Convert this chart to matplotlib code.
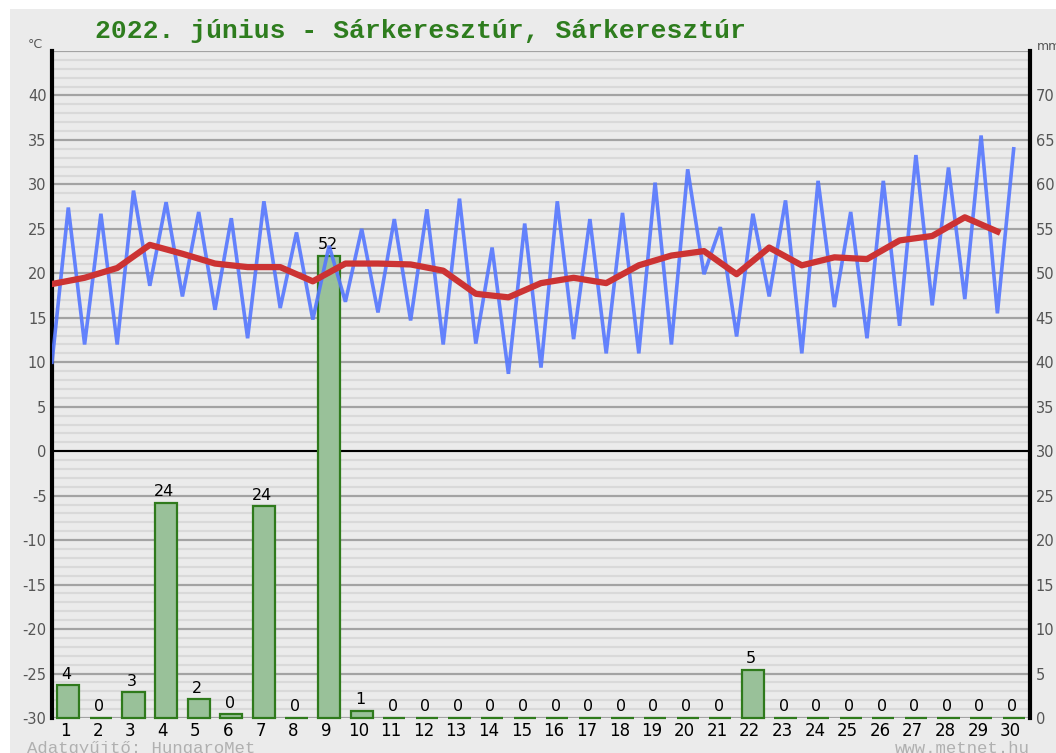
import matplotlib
matplotlib.use("Agg")
import matplotlib.pyplot as plt
from matplotlib.patches import Rectangle
import numpy as np

# ---------------- data ----------------
days = list(range(1, 31))
tmin = [10.0, 12.0, 12.0, 18.6, 17.4, 15.9, 12.7, 16.1, 14.8, 16.8,
        15.6, 14.7, 12.0, 12.1, 8.7, 9.4, 12.6, 11.0, 11.0, 12.0,
        19.9, 12.9, 17.4, 11.0, 16.2, 12.7, 14.1, 16.4, 17.1, 15.5]
tmax = [27.4, 26.7, 29.3, 28.0, 26.9, 26.2, 28.1, 24.6, 23.1, 25.0,
        26.1, 27.2, 28.4, 22.9, 25.6, 28.1, 26.1, 26.8, 30.2, 31.7,
        25.2, 26.7, 28.2, 30.4, 26.9, 30.4, 33.3, 31.9, 35.5, 34.0]
tmean = [18.8, 19.5, 20.6, 23.2, 22.2, 21.1, 20.7, 20.7, 19.1, 21.1,
         21.1, 21.0, 20.3, 17.7, 17.3, 18.9, 19.5, 18.9, 20.9, 22.0,
         22.5, 19.9, 22.9, 20.9, 21.8, 21.6, 23.7, 24.2, 26.3, 24.7]
precip = [3.7, 0, 2.9, 24.2, 2.1, 0.4, 23.8, 0, 52.0, 0.8,
          0, 0, 0, 0, 0, 0, 0, 0, 0, 0,
          0, 5.4, 0, 0, 0, 0, 0, 0, 0, 0]
precip_labels = [str(int(round(v))) for v in precip]
temp_ticks = list(range(-30, 45, 5))
mm_ticks = list(range(0, 75, 5))
title = "2022. június - Sárkeresztúr, Sárkeresztúr"

# ---------------- figure ----------------
W, H = 1056, 753
fig = plt.figure(figsize=(W / 100, H / 100), dpi=100, facecolor="white")
fig.patches.append(Rectangle((10 / W, 0), 1 - 10 / W, 1 - 9 / H,
                             transform=fig.transFigure, facecolor="#ebebeb",
                             edgecolor="none", zorder=-10))

left, right, top, bottom = 52 / W, 1030 / W, 1 - 51 / H, 1 - 718 / H
ax = fig.add_axes([left, bottom, right - left, top - bottom])
ax2 = ax.twinx()
ax.set_zorder(ax2.get_zorder() + 1)
ax.patch.set_visible(False)
ax2.set_facecolor("#ebebeb")

ax.set_xlim(0.6, 30.6)
ax.set_ylim(-30, 45)
ax2.set_ylim(0, 75)

# grid on ax2 (behind bars)
for v in range(0, 76):
    if v % 5 == 0:
        ax2.axhline(v, color="#a3a3a3", lw=1.6, zorder=0)
    else:
        ax2.axhline(v, color="#d9d9d9", lw=1.6, zorder=0)
ax2.axhline(30, color="black", lw=1.5, zorder=0.5)

# bars
xb = np.array(days) + 0.1
bars = ax2.bar(xb, precip, width=0.68, color="#99c199", edgecolor="#2f7a1c",
               linewidth=1.6, zorder=2)
for b in bars:
    b.set_clip_on(False)
for x, v, lab in zip(xb, precip, precip_labels):
    ax2.text(x - 0.05, v + 0.4, lab, ha="center", va="bottom", fontsize=11.5,
             color="black", zorder=3)

# temperature lines
xs = []
ys = []
for d, lo, hi in zip(days, tmin, tmax):
    xs += [d - 0.4, d + 0.1]
    ys += [lo, hi]
ax.plot(xs, ys, color="#5577ff", lw=2.6, alpha=0.9, zorder=4,
        solid_joinstyle="miter")
ax.plot(np.array(days) - 0.4, tmean, color="#cc3333", lw=4.5, zorder=5,
        solid_joinstyle="round")

# ticks
ax.set_xticks(days)
ax.set_xticklabels([str(d) for d in days], fontsize=12, color="black")
ax.set_yticks(temp_ticks)
ax.set_yticklabels([str(t) for t in temp_ticks], fontsize=10.5, color="#555555")
ax2.set_yticks(mm_ticks)
ax2.set_yticklabels([str(t) for t in mm_ticks], fontsize=10.5, color="#555555")
ax.tick_params(axis="both", length=0, pad=4)
ax2.tick_params(axis="y", length=0, pad=4)
ax.tick_params(axis="x", pad=3)

for a in (ax, ax2):
    for s in ("top", "bottom", "left", "right"):
        a.spines[s].set_visible(False)
ax.spines["left"].set_visible(True)
ax.spines["left"].set_linewidth(3)
ax.spines["left"].set_color("black")
ax2.spines["right"].set_visible(True)
ax2.spines["right"].set_linewidth(3)
ax2.spines["right"].set_color("black")

# texts
fig.text(95 / W, 1 - 38 / H, title, fontsize=19, family="Liberation Mono",
         fontweight="bold", color="#2e7d1e", ha="left", va="baseline")
fig.text(35 / W, 1 - 44 / H, "°C", fontsize=9, color="#555555",
         ha="center", va="center")
fig.text(1037 / W, 1 - 46 / H, "mm", fontsize=9, color="#555555",
         ha="left", va="center")
fig.text(27 / W, 1 - 753 / H, "Adatgyűjtő: HungaroMet", fontsize=12.5,
         family="Liberation Mono", color="#b0b0b0", ha="left", va="baseline")
fig.text(1030 / W, 1 - 753 / H, "www.metnet.hu", fontsize=12.5,
         family="Liberation Mono", color="#b0b0b0", ha="right", va="baseline")

fig.savefig("out.png", dpi=100, facecolor="white")
